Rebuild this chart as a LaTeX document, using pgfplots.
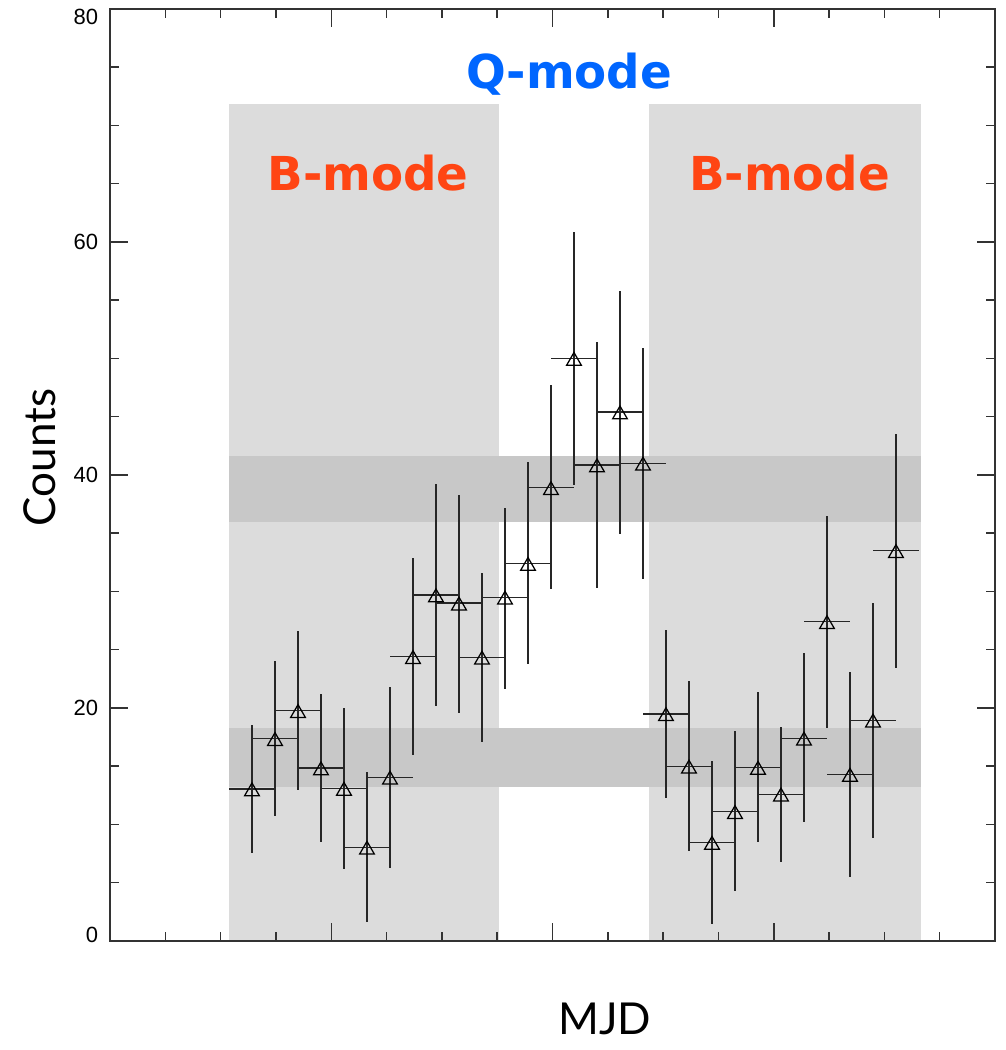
\documentclass[border=0pt]{standalone}
\usepackage{fontspec}
\setmainfont{Lato}
\newfontfamily\dvs{DejaVu Sans}
\newfontfamily\tickfont{Liberation Sans}
\usepackage{pgfplots}
\usepackage{pgfplotstable}
\pgfplotsset{compat=1.18}
\definecolor{bmode}{RGB}{255,69,19}
\definecolor{qmode}{RGB}{0,102,255}
\definecolor{lgray}{RGB}{220,220,220}
\definecolor{dgray}{RGB}{200,200,200}

\pgfplotstableread{
x      y      ep     em
2.567  13.05  5.45   5.50
2.983  17.37  6.63   6.64
3.399  19.77  6.83   6.77
3.814  14.85  6.35   6.35
4.230  13.10  6.90   6.92
4.646  8.04   6.46   6.44
5.062  14.05  7.75   7.75
5.478  24.40  8.50   8.40
5.893  29.70  9.50   9.50
6.309  29.00  9.30   9.40
6.725  24.35  7.25   7.25
7.141  29.50  7.70   7.90
7.557  32.40  8.70   8.60
7.972  38.90  8.80   8.70
8.388  50.00  10.86  10.90
8.804  40.86  10.54  10.56
9.220  45.40  10.40  10.50
9.636  41.00  9.90   9.90
10.051 19.50  7.20   7.20
10.467 15.00  7.30   7.30
10.883 8.46   6.99   7.00
11.299 11.10  6.90   6.84
11.715 14.90  6.50   6.40
12.130 12.60  5.80   5.80
12.546 17.40  7.30   7.20
12.962 27.40  9.10   9.10
13.378 14.30  8.75   8.80
13.794 18.95  10.05  10.11
14.209 33.50  10.00  10.10
}\datatab

\begin{document}
\begin{tikzpicture}
\begin{axis}[
  width=354pt, height=372.8pt, scale only axis,
  xmin=0, xmax=16, ymin=0, ymax=80,
  xtick={0,4,8,12,16}, xticklabels={}, minor x tick num=3,
  ytick={0,20,40,60,80}, minor y tick num=3,
  yticklabels={\raisebox{2.4pt}[\height][\depth]{0},20,40,60,\raisebox{-3.2pt}[\height][\depth]{80}},
  major tick length=7.2pt, minor tick length=3.6pt,
  tick align=inside,
  axis line style={draw=black!80, line width=0.8pt},
  every tick/.style={black!80, line width=0.6pt},
  clip=false,
  axis on top,
  /pgf/number format/assume math mode=true,
  yticklabel style={font=\tickfont\fontsize{8.8}{10}\selectfont, xshift=-1.2pt},
]
% light gray B-mode regions
\addplot[draw=none, fill=lgray] coordinates {(2.151,71.85) (7.033,71.85)} \closedcycle;
\addplot[draw=none, fill=lgray] coordinates {(9.745,71.85) (14.662,71.85)} \closedcycle;
% darker bands
\addplot[draw=none, fill=dgray] coordinates {(2.151,35.97) (14.662,35.97) (14.662,41.63) (2.151,41.63)} -- cycle;
\addplot[draw=none, fill=dgray] coordinates {(2.151,13.22) (14.662,13.22) (14.662,18.28) (2.151,18.28)} -- cycle;
% data
\addplot[only marks, mark=triangle, mark size=3.4pt,
  mark options={black, line width=0.5pt, yshift=-1pt},
  error bars/.cd, x dir=both, x fixed=0.4158, y dir=both, y explicit,
  error mark=none, error bar style={line width=0.55pt, black!85}]
  table[x=x, y=y, y error plus=ep, y error minus=em]{\datatab};
% texts
\node[anchor=base, text=bmode, font=\dvs\bfseries\fontsize{18.7}{20}\selectfont] at (axis cs:4.664,64.46) {B-mode};
\node[anchor=base, text=bmode, font=\dvs\bfseries\fontsize{18.7}{20}\selectfont] at (axis cs:12.285,64.46) {B-mode};
\node[anchor=base, text=qmode, font=\dvs\bfseries\fontsize{18.7}{20}\selectfont] at (axis cs:8.30,73.2) {Q-mode};
\node[rotate=90, anchor=center, font=\fontsize{17.6}{20}\selectfont] at (rel axis cs:-0.0791,0.519) {Counts};
\node[anchor=base, font=\fontsize{17.6}{20}\selectfont] at (rel axis cs:0.559,-0.0998) {MJD};
\coordinate (ll) at (rel axis cs:0,0);
\coordinate (ur) at (rel axis cs:1,1);
\end{axis}
\pgfresetboundingbox
\path[use as bounding box] ([xshift=-44pt,yshift=-43.6pt]ll) rectangle ([xshift=4pt,yshift=3.6pt]ur);
\end{tikzpicture}
\end{document}
